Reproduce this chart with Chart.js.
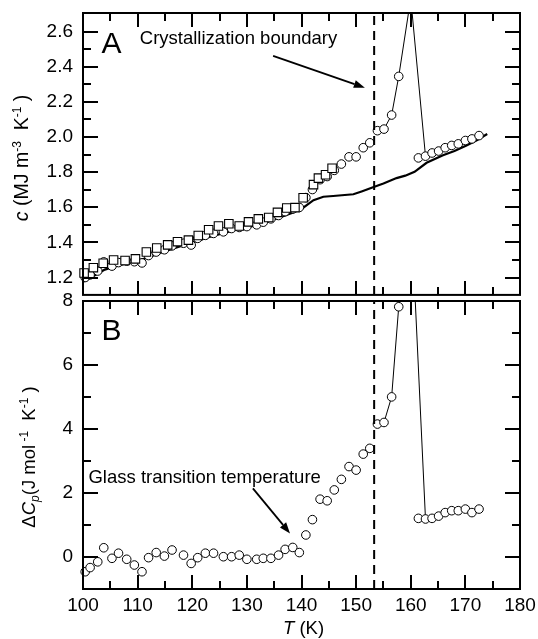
<!DOCTYPE html>
<html><head><meta charset="utf-8">
<script src="https://cdn.jsdelivr.net/npm/chart.js@4.4.0/dist/chart.umd.min.js"></script>
<style>
html,body{margin:0;padding:0;background:#fff;}
#wrap{position:relative;width:538px;height:639px;overflow:hidden;background:#fff;}
#boxA{position:absolute;left:0;top:0;width:538px;height:302px;}
#boxB{position:absolute;left:0;top:290px;width:538px;height:349px;}
canvas{display:block;}
</style></head><body>
<div id="wrap">
<div id="boxB"><canvas id="cB" width="538" height="349" style="width:538px;height:349px"></canvas></div>
<div id="boxA"><canvas id="cA" width="538" height="302" style="width:538px;height:302px"></canvas></div>
</div>
<script>
// ---------- data ----------
const xRange = [100, 180];
const xMajorTicks = [100, 110, 120, 130, 140, 150, 160, 170, 180];
const xMinorTicks = [105, 115, 125, 135, 145, 155, 165, 175];
const yRangeA = [1.101, 2.706];
const yMajorTicksA = [1.2, 1.4, 1.6, 1.8, 2.0, 2.2, 2.4, 2.6];
const yMinorTicksA = [1.3, 1.5, 1.7, 1.9, 2.1, 2.3, 2.5];
const yRangeB = [-1.01, 8];
const yMajorTicksB = [0, 2, 4, 6, 8];
const yMinorTicksB = [1, 3, 5, 7];

// panel A squares
const squareT = [100.2, 101.9, 103.7, 105.6, 107.7, 109.6, 111.6, 113.5, 115.5, 117.3, 119.3, 121.1, 123.0, 124.8, 126.7, 128.6, 130.3, 132.1, 134.0, 135.6, 137.3, 138.8, 140.3, 142.2, 143.1, 144.4, 145.6];
const squareC = [1.226, 1.256, 1.281, 1.300, 1.297, 1.306, 1.345, 1.368, 1.386, 1.404, 1.413, 1.439, 1.472, 1.493, 1.506, 1.493, 1.517, 1.534, 1.542, 1.571, 1.596, 1.598, 1.654, 1.729, 1.766, 1.785, 1.822];

// circles (shared temperatures for panels A and B)
const circleT = [100.4, 101.3, 102.7, 103.8, 105.3, 106.5, 108.0, 109.4, 110.8, 112.0, 113.4, 114.9, 116.3, 118.4, 119.8, 121.0, 122.4, 123.9, 125.7, 127.2, 128.6, 130.0, 131.8, 133.0, 134.4, 135.8, 137.0, 138.4, 139.6, 140.8, 142.0, 143.4, 144.7, 146.0, 147.3, 148.7, 150.0, 151.3, 152.5, 153.9, 155.1, 156.5, 157.8, 161.4, 162.7, 163.9, 165.1, 166.3, 167.5, 168.7, 170.0, 171.2, 172.5];
const circleC = [1.200, 1.215, 1.237, 1.289, 1.265, 1.285, 1.293, 1.290, 1.283, 1.325, 1.345, 1.358, 1.380, 1.395, 1.385, 1.423, 1.440, 1.451, 1.460, 1.479, 1.485, 1.490, 1.500, 1.515, 1.534, 1.553, 1.575, 1.590, 1.599, 1.655, 1.701, 1.757, 1.775, 1.810, 1.846, 1.887, 1.887, 1.939, 1.967, 2.036, 2.045, 2.125, 2.345, 1.881, 1.891, 1.909, 1.920, 1.939, 1.952, 1.961, 1.980, 1.989, 2.008];
const circleDCp = [-0.47, -0.34, -0.16, 0.28, -0.05, 0.11, -0.08, -0.26, -0.47, -0.03, 0.13, 0.02, 0.21, 0.05, -0.21, -0.03, 0.11, 0.11, 0.00, 0.00, 0.05, -0.08, -0.08, -0.05, -0.05, 0.05, 0.23, 0.29, 0.13, 0.68, 1.16, 1.80, 1.75, 2.09, 2.42, 2.82, 2.71, 3.21, 3.39, 4.15, 4.20, 5.00, 7.82, 1.20, 1.18, 1.20, 1.27, 1.38, 1.44, 1.44, 1.49, 1.38, 1.49];

// panel A solid curve
const baseT = [100, 102, 104, 106, 108, 110, 112, 115, 118, 120, 123, 126, 129, 132, 135, 138, 140, 142.2, 144, 145.8, 149.5, 151, 153.1, 155, 157.4, 159, 160.7, 162.9, 165.9, 168, 170.2, 172, 174];
const baseC = [1.175, 1.210, 1.245, 1.265, 1.280, 1.295, 1.315, 1.350, 1.380, 1.400, 1.430, 1.455, 1.480, 1.500, 1.530, 1.565, 1.590, 1.640, 1.660, 1.664, 1.674, 1.690, 1.714, 1.735, 1.766, 1.780, 1.802, 1.853, 1.896, 1.920, 1.952, 1.980, 2.017];

// thin connecting lines through the crystallization peak
const jumpTA = [155.1, 156.5, 157.8, 160.0, 162.7];
const jumpCA = [2.045, 2.125, 2.345, 2.790, 1.891];
const jumpTB = [153.9, 155.1, 156.5, 157.8, 160.0, 162.7];
const jumpDB = [4.15, 4.20, 5.00, 7.82, 11.0, 1.18];

const boundaryT = 153.3;

// ---------- helpers ----------
const FONT = "'Liberation Sans', Arial, Helvetica, sans-serif";
Chart.defaults.font.family = FONT;
Chart.defaults.color = '#000';
const pts = (xs, ys) => xs.map((x, i) => ({x: x, y: ys[i]}));

function drawRich(ctx, parts, x, y, align) {
  let total = 0;
  parts.forEach(p => { ctx.font = (p.style || '') + ' ' + p.size + 'px ' + FONT; p.w = ctx.measureText(p.t).width; total += p.w; });
  let cx = align === 'center' ? x - total / 2 : x;
  ctx.textBaseline = 'alphabetic'; ctx.textAlign = 'left';
  parts.forEach(p => { ctx.font = (p.style || '') + ' ' + p.size + 'px ' + FONT; ctx.fillText(p.t, cx, y + (p.dy || 0)); cx += p.w; });
}
function arrow(ctx, x1, y1, x2, y2) {
  const ang = Math.atan2(y2 - y1, x2 - x1), L = 11, W = 4;
  const bx = x2 - L * Math.cos(ang), by = y2 - L * Math.sin(ang);
  ctx.setLineDash([]);
  ctx.beginPath(); ctx.moveTo(x1, y1); ctx.lineTo(bx, by); ctx.lineWidth = 1.8; ctx.stroke();
  ctx.beginPath(); ctx.moveTo(x2, y2);
  ctx.lineTo(bx + W * Math.sin(ang), by - W * Math.cos(ang));
  ctx.lineTo(bx - W * Math.sin(ang), by + W * Math.cos(ang));
  ctx.closePath(); ctx.fill();
}
function frameTicks(chart, yMaj, yMin) {
  const ctx = chart.ctx, a = chart.chartArea, x = chart.scales.x, y = chart.scales.y;
  ctx.save();
  ctx.setLineDash([]);
  ctx.strokeStyle = '#000';
  ctx.lineWidth = 2;
  const seg = (x1, y1, x2, y2) => { ctx.beginPath(); ctx.moveTo(x1, y1); ctx.lineTo(x2, y2); ctx.stroke(); };
  const xt = (vals, len) => vals.forEach(v => { const p = Math.round(x.getPixelForValue(v));
    seg(p, a.top, p, a.top + len); seg(p, a.bottom, p, a.bottom - len); });
  const yt = (vals, len) => vals.forEach(v => { const p = Math.round(y.getPixelForValue(v));
    seg(a.left, p, a.left + len, p); seg(a.right, p, a.right - len, p); });
  xt(xMajorTicks, 14); xt(xMinorTicks, 8); yt(yMaj, 15); yt(yMin, 8);
  ctx.strokeRect(a.left, a.top, a.right - a.left, a.bottom - a.top);
  ctx.restore();
}
function xScale(show) {
  return {type: 'linear', min: xRange[0], max: xRange[1], display: show,
    afterBuildTicks: s => { s.ticks = xMajorTicks.map(v => ({value: v})); },
    afterFit: s => { s.height = show ? 50 : 0; s.paddingLeft = 0; s.paddingRight = 0; s.paddingTop = 0; s.paddingBottom = 0; },
    grid: {display: false, drawTicks: false}, border: {display: false},
    ticks: {font: {size: 19}, padding: 5, maxRotation: 0, autoSkip: false, callback: v => String(v)}};
}
function yScale(range, majors, fmt) {
  return {type: 'linear', min: range[0], max: range[1],
    afterBuildTicks: s => { s.ticks = majors.map(v => ({value: v})); },
    afterFit: s => { s.width = 83; s.paddingTop = 0; s.paddingBottom = 0; s.paddingLeft = 0; s.paddingRight = 0; },
    grid: {display: false, drawTicks: false}, border: {display: false},
    ticks: {font: {size: 19}, padding: 10, autoSkip: false, callback: fmt}};
}
const circleStyle = {pointStyle: 'circle', pointRadius: 4.3, pointHoverRadius: 4.3, pointBorderWidth: 1, pointBorderColor: '#000', pointBackgroundColor: '#fff', showLine: false, clip: false};
const baseOpts = {responsive: false, animation: false, events: [],
  plugins: {legend: {display: false}, tooltip: {enabled: false}}};

// ---------- panel A ----------
new Chart(document.getElementById('cA'), {
  type: 'scatter',
  data: {datasets: [
    {data: pts([boundaryT, boundaryT], yRangeA), showLine: true, borderColor: '#000', borderWidth: 2, borderDash: [9, 6], pointRadius: 0},
    Object.assign({data: pts(squareT, squareC)}, circleStyle, {pointStyle: 'rect', pointRadius: 6, pointHoverRadius: 6, pointBorderWidth: 1.1}),
    Object.assign({data: pts(circleT, circleC)}, circleStyle),
    {data: pts(baseT, baseC), showLine: true, borderColor: '#000', borderWidth: 2.2, pointRadius: 0, tension: 0},
    {data: pts(jumpTA, jumpCA), showLine: true, borderColor: '#000', borderWidth: 1, pointRadius: 0, tension: 0}
  ]},
  options: Object.assign({}, baseOpts, {
    layout: {padding: {left: 0, right: 18, top: 13, bottom: 1}},
    scales: {x: xScale(false), y: yScale(yRangeA, yMajorTicksA, v => Number(v).toFixed(1))}
  }),
  plugins: [{id: 'decoA', afterDraw(chart) {
    frameTicks(chart, yMajorTicksA, yMinorTicksA);
    const ctx = chart.ctx, a = chart.chartArea, x = chart.scales.x, y = chart.scales.y;
    ctx.save(); ctx.fillStyle = '#000'; ctx.strokeStyle = '#000';
    drawRich(ctx, [{t: 'A', size: 30}], x.getPixelForValue(103.4), y.getPixelForValue(2.481), 'left');
    drawRich(ctx, [{t: 'Crystallization boundary', size: 18.5}], x.getPixelForValue(110.4), y.getPixelForValue(2.528), 'left');
    arrow(ctx, x.getPixelForValue(134.8), y.getPixelForValue(2.462), x.getPixelForValue(151.6), y.getPixelForValue(2.281));
    ctx.translate(a.left - 55, (a.top + a.bottom) / 2 + 4); ctx.rotate(-Math.PI / 2);
    drawRich(ctx, [{t: 'c', size: 19.5, style: 'italic'}, {t: ' (MJ m', size: 19.5}, {t: '-3', size: 12, dy: -7},
      {t: '  K', size: 19.5}, {t: '-1', size: 12, dy: -7}, {t: ' )', size: 19.5}], 0, 0, 'center');
    ctx.restore();
  }}]
});

// ---------- panel B ----------
new Chart(document.getElementById('cB'), {
  type: 'scatter',
  data: {datasets: [
    {data: pts([boundaryT, boundaryT], yRangeB), showLine: true, borderColor: '#000', borderWidth: 2, borderDash: [9, 6], pointRadius: 0},
    Object.assign({data: pts(circleT, circleDCp)}, circleStyle),
    {data: pts(jumpTB, jumpDB), showLine: true, borderColor: '#000', borderWidth: 1, pointRadius: 0, tension: 0}
  ]},
  options: Object.assign({}, baseOpts, {
    layout: {padding: {left: 0, right: 18, top: 11, bottom: 0}},
    scales: {x: xScale(true), y: yScale(yRangeB, yMajorTicksB, v => String(v))}
  }),
  plugins: [{id: 'decoB', afterDraw(chart) {
    frameTicks(chart, yMajorTicksB, yMinorTicksB);
    const ctx = chart.ctx, a = chart.chartArea, x = chart.scales.x, y = chart.scales.y;
    ctx.save(); ctx.fillStyle = '#000'; ctx.strokeStyle = '#000';
    drawRich(ctx, [{t: 'B', size: 30}], x.getPixelForValue(103.4), y.getPixelForValue(6.78), 'left');
    drawRich(ctx, [{t: 'Glass transition temperature', size: 18.5}], x.getPixelForValue(101.0), y.getPixelForValue(2.315), 'left');
    arrow(ctx, x.getPixelForValue(131.1), y.getPixelForValue(2.14), x.getPixelForValue(137.9), y.getPixelForValue(0.73));
    drawRich(ctx, [{t: 'T', size: 18.5, style: 'italic'}, {t: ' (K)', size: 18.5}], (a.left + a.right) / 2 + 2, a.bottom + 45, 'center');
    ctx.translate(a.left - 48, (a.top + a.bottom) / 2 + 12); ctx.rotate(-Math.PI / 2);
    drawRich(ctx, [{t: '\u0394', size: 18.5}, {t: 'C', size: 18.5, style: 'italic'}, {t: 'p', size: 12, style: 'italic', dy: 4},
      {t: '(J mol', size: 18.5}, {t: ' -1', size: 12, dy: -7}, {t: '  K', size: 18.5}, {t: '-1', size: 12, dy: -7}, {t: ' )', size: 18.5}], 0, 0, 'center');
    ctx.restore();
  }}]
});
</script>
</body></html>
